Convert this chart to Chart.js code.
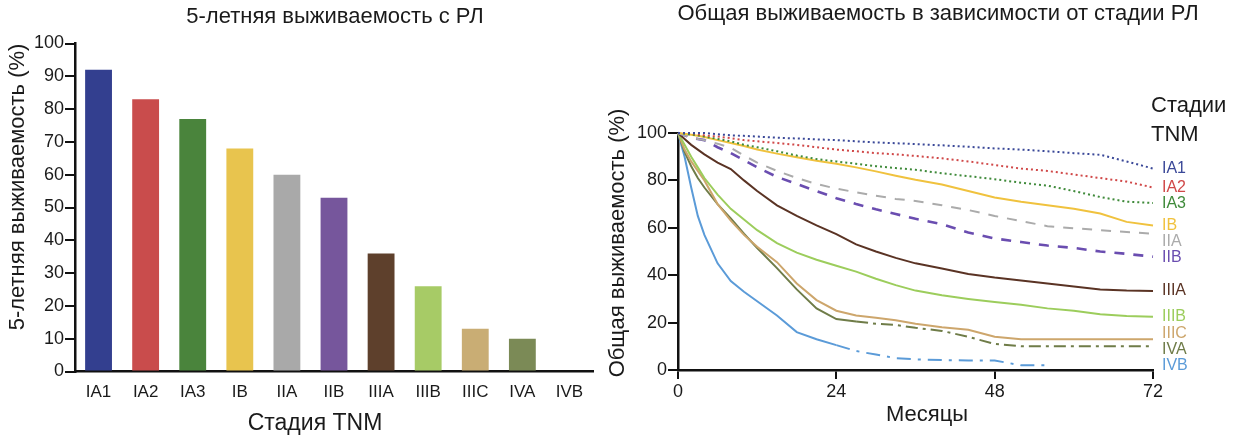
<!DOCTYPE html>
<html>
<head>
<meta charset="utf-8">
<script src="https://cdn.jsdelivr.net/npm/chart.js@4.4.1/dist/chart.umd.min.js"></script>
<style>
    body { margin: 0; background: #fff; }
    #wrap { position: relative; width: 1247px; height: 439px; overflow: hidden; }
    #barChart { position: absolute; left: 0; top: 0; }
    #kmChart { position: absolute; left: 600px; top: 0; }
</style>
</head>
<body>
<div id="wrap">
    <canvas id="barChart" width="600" height="439"></canvas>
    <canvas id="kmChart" width="647" height="439"></canvas>
</div>
<script>
// стадии и 5-летняя выживаемость (левая панель)
const stages = ['IA1', 'IA2', 'IA3', 'IB', 'IIA', 'IIB', 'IIIA', 'IIIB', 'IIIC', 'IVA', 'IVB'];
const fiveYearSurvival = [92, 83, 77, 68, 60, 53, 36, 26, 13, 10, 0];
const barTicks = [0, 10, 20, 30, 40, 50, 60, 70, 80, 90, 100];

const barColors = ['#333f8f', '#c94c4c', '#4a843c', '#e8c44e', '#a9a9a9', '#76569c',
                   '#5e402c', '#a7cb66', '#c9ad74', '#7b8a56', '#6a9fd8'];
const lineColors = ['#3a4898', '#d04848', '#3f8a3a', '#f0c23e', '#ababab', '#6a4db0',
                    '#5a3324', '#9ccd5c', '#cda66c', '#6f7c48', '#5b9bd8'];

// кривые общей выживаемости (правая панель)
const months = [0, 1, 2, 3, 4, 6, 8, 10, 12, 15, 18, 21, 24, 27, 30, 33, 36, 40, 44, 48, 52, 56, 60, 64, 68, 72];
const osIA1  = [100, 100, 100, 100, 100, 99.5, 99, 98.8, 98.5, 98, 97.7, 97.3, 97, 96.5, 96, 95.7, 95.3, 94.8, 94.2, 93.5, 93, 92.3, 91.5, 90.8, 88, 85];
const osIA2  = [100, 100, 100, 99.5, 99, 98.5, 97.8, 97, 96.5, 95.8, 95, 94, 93, 92.3, 91.5, 91, 90.3, 89.3, 88, 86.5, 85, 84, 82.5, 81, 79.5, 77];
const osIA3  = [100, 99.7, 99.3, 99, 98.5, 97.5, 96.5, 95, 94, 92.3, 90.5, 89, 88, 87, 86, 85.2, 84.5, 83, 81.8, 80.5, 79, 77.8, 75.5, 73, 71, 70.5];
const osIB   = [100, 99.7, 99.3, 98.8, 98.3, 97, 95.8, 94.5, 93, 91.3, 89.8, 88.3, 87, 85.5, 83.8, 82, 80.3, 78.3, 75.5, 72.8, 71, 69.5, 68, 66, 62.5, 61];
const osIIA  = [100, 99, 98, 97.5, 97, 95.5, 93.8, 90.5, 87.5, 84, 81, 78.5, 76.5, 75, 73.5, 72.2, 71.3, 69.5, 67.5, 65, 62.8, 60.7, 59.8, 59, 58.2, 57.5];
const osIIB  = [100, 99, 98, 97.5, 97, 94, 91.5, 88.5, 85.5, 81.5, 78.5, 75.5, 72.5, 70, 67.8, 65.8, 63.8, 61.5, 58, 55.5, 54, 52.5, 51.5, 50, 49, 47.8];
const osIIIA = [100, 97.5, 95, 93, 91, 87.5, 84.8, 80, 75.5, 69.5, 65, 61, 57.3, 53, 50, 47.3, 45, 42.8, 40.5, 39, 37.8, 36.5, 35.2, 34, 33.5, 33.3];
const osIIIB = [100, 95, 90, 85.5, 81, 74, 68, 63.5, 59, 53.5, 49.5, 46.5, 44, 41.5, 38.5, 35.8, 33.5, 31.5, 30, 28.7, 27.5, 26, 25, 23.5, 22.8, 22.5];
const osIIIC = [100, 93, 88, 84, 80, 70, 63, 57, 52, 45.5, 36.5, 29.5, 25, 23, 22, 21, 19.5, 18, 17, 14, 13, 13, 13, 13, 13, 13];
const osIVA  = [100, 92, 86, 81, 77, 70, 64, 57.5, 51.5, 43, 34, 26, 21.5, 20.5, 19.5, 19, 17.8, 16.5, 14, 11, 10, 10, 10, 10, 10, 10];
const osIVB  = [100, 90, 77, 65, 57, 45, 37.5, 33, 29, 23, 16, 13, 10.5, 8, 6.5, 5, 4.5, 4.2, 4, 4, 2, 2, null, null, null, null];
const monthTicks = [0, 24, 48, 72];
const osTicks = [0, 20, 40, 60, 80, 100];

const curves = [osIA1, osIA2, osIA3, osIB, osIIA, osIIB, osIIIA, osIIIB, osIIIC, osIVA, osIVB];
const dashes = [[2, 3], [2, 3], [2, 3], [], [10, 9], [10, 9], [], [], [], [], []];

const FONT = '"Liberation Sans", Arial, sans-serif';
const INK = '#1a1a1a';

function text(ctx, str, x, y, size, opts) {
    opts = opts || {};
    ctx.save();
    ctx.font = size + 'px ' + FONT;
    ctx.fillStyle = opts.color || INK;
    ctx.textAlign = opts.align || 'center';
    ctx.textBaseline = 'middle';
    ctx.translate(x, y);
    if (opts.rotate) ctx.rotate(opts.rotate);
    ctx.fillText(str, 0, 0);
    ctx.restore();
}

// подписи и заголовки панелей
const barTexts = {
    id: 'barTexts',
    afterDraw(chart) {
        const ctx = chart.ctx;
        text(ctx, '5-летняя выживаемость с РЛ', 335, 17, 22);
        text(ctx, '5-летняя выживаемость (%)', 18, 187, 22, { rotate: -Math.PI / 2 });
        text(ctx, 'Стадия TNM', 315, 424, 23);
    }
};

const kmTexts = {
    id: 'kmTexts',
    afterDraw(chart) {
        const ctx = chart.ctx;
        const yScale = chart.scales.y;
        text(ctx, 'Общая выживаемость в зависимости от стадии РЛ', 338, 14, 22);
        text(ctx, 'Общая выживаемость (%)', 18, 243, 22, { rotate: -Math.PI / 2 });
        text(ctx, 'Месяцы', 327, 415, 22);
        text(ctx, 'Стадии', 551, 106, 22, { align: 'left' });
        text(ctx, 'TNM', 551, 135, 22, { align: 'left' });

        // метки стадий у концов кривых, раздвинутые чтобы не наезжали
        const gap = 16;
        const ys = chart.data.datasets.map(ds => {
            const pts = ds.data;
            return yScale.getPixelForValue(pts[pts.length - 1].y);
        });
        for (let i = 1; i < ys.length; i++) ys[i] = Math.max(ys[i], ys[i - 1] + gap);
        const bottom = chart.chartArea.bottom - 4;
        ys[ys.length - 1] = Math.min(ys[ys.length - 1], bottom);
        for (let i = ys.length - 2; i >= 0; i--) ys[i] = Math.min(ys[i], ys[i + 1] - gap);
        chart.data.datasets.forEach((ds, i) => {
            text(ctx, ds.label, chart.chartArea.right + 9, ys[i], 16, { align: 'left', color: ds.borderColor });
        });
    }
};

document.addEventListener('DOMContentLoaded', function() {
    // столбцы: 5-летняя выживаемость по стадиям
    new Chart(document.getElementById('barChart'), {
        type: 'bar',
        data: {
            labels: stages,
            datasets: [{
                data: fiveYearSurvival,
                backgroundColor: barColors,
                barPercentage: 0.57,
                categoryPercentage: 1
            }]
        },
        options: {
            responsive: false,
            animation: false,
            layout: { padding: { top: 43.5, right: 7, bottom: 0, left: 0 } },
            plugins: { legend: { display: false }, tooltip: { enabled: false } },
            scales: {
                x: {
                    grid: { display: false, drawTicks: false },
                    border: { display: true, color: '#111', width: 2.5 },
                    ticks: { color: INK, font: { family: FONT, size: 17 }, padding: 11, maxRotation: 0 },
                    afterFit: s => { s.height = 67.5; }
                },
                y: {
                    min: 0,
                    max: 100,
                    afterBuildTicks: s => { s.ticks = barTicks.map(v => ({ value: v })); },
                    grid: { display: true, drawOnChartArea: false, drawTicks: true, tickLength: 10, color: '#111', lineWidth: 2 },
                    border: { display: true, color: '#111', width: 2.5 },
                    ticks: { color: INK, font: { family: FONT, size: 18 }, padding: 1 },
                    afterFit: s => { s.width = 75; }
                }
            }
        },
        plugins: [barTexts]
    });

    // кривые Каплана-Мейера по стадиям
    const datasets = stages.map((st, i) => {
        const ds = {
            label: st,
            data: months.map((m, j) => ({ x: m, y: curves[i][j] })).filter(p => p.y !== null),
            borderColor: lineColors[i],
            borderWidth: i === 5 ? 2.6 : 2,
            borderDash: dashes[i],
            pointRadius: 0,
            tension: 0,
            fill: false,
            clip: false
        };
        if (st === 'IVA') ds.segment = { borderDash: c => c.p0.parsed.x >= 27 ? [12, 5, 3, 5] : undefined };
        if (st === 'IVB') ds.segment = { borderDash: c => c.p0.parsed.x >= 24 ? [14, 7, 3, 7] : undefined };
        return ds;
    });

    new Chart(document.getElementById('kmChart'), {
        type: 'line',
        data: { datasets: datasets },
        options: {
            responsive: false,
            animation: false,
            layout: { padding: { top: 133, right: 94, bottom: 0, left: 0 } },
            plugins: { legend: { display: false }, tooltip: { enabled: false } },
            scales: {
                x: {
                    type: 'linear',
                    min: 0,
                    max: 72,
                    afterBuildTicks: s => { s.ticks = monthTicks.map(v => ({ value: v })); },
                    grid: { display: true, drawOnChartArea: false, drawTicks: true, tickLength: 9, color: '#111', lineWidth: 2 },
                    border: { display: true, color: '#111', width: 2.5 },
                    ticks: { color: INK, font: { family: FONT, size: 18 }, padding: 2, autoSkip: false, maxRotation: 0 },
                    afterFit: s => { s.height = 69; }
                },
                y: {
                    min: 0,
                    max: 100,
                    afterBuildTicks: s => { s.ticks = osTicks.map(v => ({ value: v })); },
                    grid: { display: true, drawOnChartArea: false, drawTicks: true, tickLength: 10, color: '#111', lineWidth: 2 },
                    border: { display: true, color: '#111', width: 2.5 },
                    ticks: { color: INK, font: { family: FONT, size: 18 }, padding: 1 },
                    afterFit: s => { s.width = 78; }
                }
            }
        },
        plugins: [kmTexts]
    });
});
</script>
</body>
</html>
